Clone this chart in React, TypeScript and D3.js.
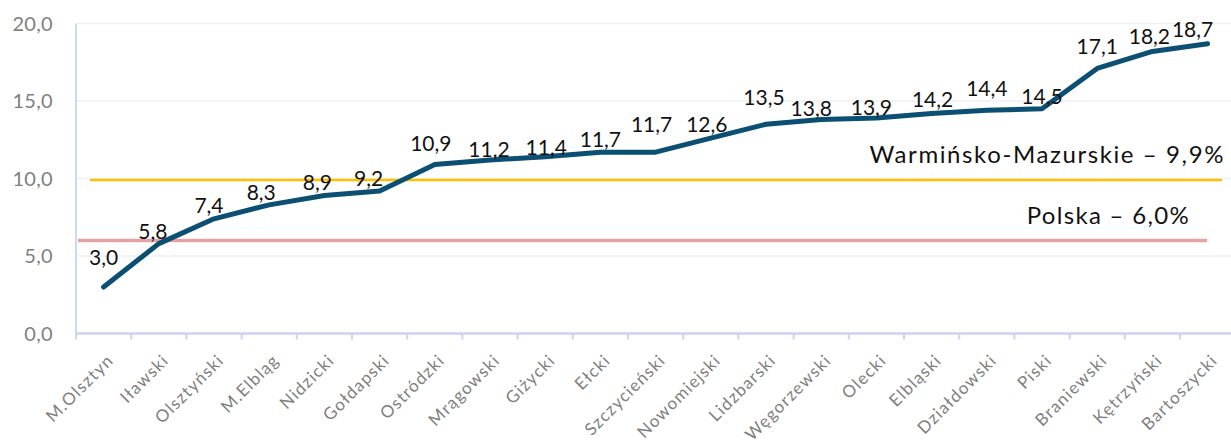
import React from "react";
import * as d3 from "d3";

const categories = [
  "M.Olsztyn", "Iławski", "Olsztyński", "M.Elbląg", "Nidzicki", "Gołdapski",
  "Ostródzki", "Mrągowski", "Giżycki", "Ełcki", "Szczycieński", "Nowomiejski",
  "Lidzbarski", "Węgorzewski", "Olecki", "Elbląski", "Działdowski", "Piski",
  "Braniewski", "Kętrzyński", "Bartoszycki",
];
const values = [3.0, 5.8, 7.4, 8.3, 8.9, 9.2, 10.9, 11.2, 11.4, 11.7, 11.7, 12.6, 13.5, 13.8, 13.9, 14.2, 14.4, 14.5, 17.1, 18.2, 18.7];
const yTicks = [0, 5, 10, 15, 20];
const regionLabel = "Warmińsko-Mazurskie";
const regionValue = 9.9;
const countryLabel = "Polska";
const countryValue = 6.0;

// label nudges (layout only): [dx, dy from point]
const labelNudge: [number, number][] = [
  [0, -22], [-6, -5], [-5, -6], [-8, -5], [-7, -6], [-11, -5],
  [-4, -14], [-1, -3], [1, -2], [0, -5], [-4, -20], [-4, -6],
  [-2, -19], [-10, -4], [-5, -3], [1, -6], [0, -14], [0, -5],
  [0, -14], [-3, -7], [-15, -7],
];

const W = 1231;
const H = 443;
const left = 76;
const bottom = 333.5;
const top = 23.5;
const band = 55.2;

const fmt = (v: number) => v.toFixed(1).replace(".", ",");
const FONT = "Lato, 'DejaVu Sans', sans-serif";

export default function App() {
  const x = d3.scaleBand<string>().domain(categories).range([left, left + band * categories.length]).padding(0);
  const y = d3.scaleLinear().domain([0, 20]).range([bottom, top]);
  const cx = (c: string) => (x(c) as number) + x.bandwidth() / 2;
  const line = d3.line<number>().x((_, i) => cx(categories[i])).y((d) => y(d));

  return (
    <svg width={W} height={H} style={{ position: "absolute", left: 0, top: 0, background: "#fff" }} fontFamily={FONT}>
      {/* gridlines */}
      {yTicks.filter((t) => t > 0).map((t) => (
        <line key={t} x1={left} x2={W} y1={y(t)} y2={y(t)} stroke="#F0F1F3" strokeWidth={1.5} />
      ))}
      {/* y tick labels */}
      {yTicks.map((t) => (
        <text key={t} x={53} y={y(t)} dy="0.36em" textAnchor="end" fontSize={20} fill="#7F7F7F" letterSpacing={0.3}>
          {fmt(t)}
        </text>
      ))}
      {/* y axis */}
      <line x1={left} x2={left} y1={top} y2={bottom} stroke="#C9DBF3" strokeWidth={2} />
      {/* x axis */}
      <line x1={left} x2={W} y1={bottom} y2={bottom} stroke="#D0D0F4" strokeWidth={2.5} />
      {categories.map((c, i) => (
        <line key={i} x1={x(c) as number} x2={x(c) as number} y1={bottom} y2={bottom + 6} stroke="#D0D0F4" strokeWidth={2} />
      ))}
      <line x1={left + band * categories.length} x2={left + band * categories.length} y1={bottom} y2={bottom + 6} stroke="#D0D0F4" strokeWidth={2} />
      {/* x labels */}
      {categories.map((c, i) => (
        <text
          key={i}
          transform={`translate(${cx(c) + 11},${bottom + 28}) rotate(-45)`}
          textAnchor="end"
          fontSize={17}
          letterSpacing={1.2}
          fill="#7F7F7F"
        >
          {c}
        </text>
      ))}
      {/* reference lines */}
      <line x1={90} x2={1222} y1={y(regionValue)} y2={y(regionValue)} stroke="#FFC000" strokeWidth={2.5} />
      <line x1={78} x2={1207} y1={y(countryValue)} y2={y(countryValue)} stroke="#E6A3A3" strokeWidth={3.5} />
      <text x={1225} y={163} textAnchor="end" fontSize={24} letterSpacing={1.6} fill="#111">
        {`${regionLabel} – ${fmt(regionValue)}%`}
      </text>
      <text x={1190} y={224} textAnchor="end" fontSize={24} letterSpacing={1.3} fill="#111">
        {`${countryLabel} – ${fmt(countryValue)}%`}
      </text>
      {/* data line */}
      <path d={line(values) as string} fill="none" stroke="#0B4F72" strokeWidth={5} strokeLinecap="round" strokeLinejoin="round" />
      {/* data labels */}
      {values.map((v, i) => (
        <text
          key={i}
          x={cx(categories[i]) + labelNudge[i][0]}
          y={y(v) + labelNudge[i][1]}
          textAnchor="middle"
          fontSize={21}
          fill="#111"
        >
          {fmt(v)}
        </text>
      ))}
    </svg>
  );
}
